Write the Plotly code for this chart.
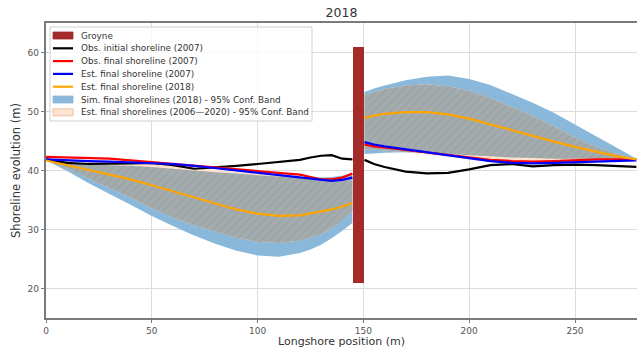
import numpy as np
import plotly.graph_objects as go

# ---------------- data ----------------
x_left = [0, 10, 20, 30, 40, 50, 60, 70, 80, 90, 100, 110, 120, 125, 130, 135, 140, 144.8]
x_right = [150.5, 155, 160, 170, 180, 190, 200, 210, 220, 230, 240, 250, 260, 270, 279]

obs_init_left = [41.9, 41.3, 41.1, 41.1, 41.2, 41.3, 40.9, 40.3, 40.5, 40.8, 41.1, 41.5, 41.8, 42.2, 42.5, 42.6, 42.0, 41.9]
obs_init_right = [41.8, 41.1, 40.6, 39.8, 39.5, 39.6, 40.2, 40.9, 41.1, 40.7, 40.9, 41.0, 40.9, 40.8, 40.6]

obs_final_left = [42.3, 42.2, 42.1, 42.0, 41.7, 41.4, 41.1, 40.7, 40.4, 40.1, 39.8, 39.6, 39.3, 38.9, 38.5, 38.5, 38.8, 39.5]
obs_final_right = [44.4, 44.1, 43.9, 43.5, 43.1, 42.7, 42.2, 41.8, 41.6, 41.5, 41.6, 41.8, 41.9, 41.9, 41.9]

est_2007_left = [41.9, 41.7, 41.6, 41.5, 41.4, 41.3, 41.1, 40.8, 40.4, 40.0, 39.7, 39.3, 38.9, 38.6, 38.4, 38.25, 38.4, 38.8]
est_2007_right = [44.8, 44.4, 44.1, 43.6, 43.0, 42.6, 42.0, 41.6, 41.3, 41.2, 41.3, 41.4, 41.5, 41.6, 41.7]

est_2018_left = [41.7, 40.9, 40.1, 39.4, 38.5, 37.5, 36.5, 35.5, 34.4, 33.4, 32.7, 32.3, 32.4, 32.7, 33.0, 33.4, 33.9, 34.5]
est_2018_right = [48.9, 49.3, 49.6, 49.9, 49.9, 49.5, 48.8, 47.8, 46.8, 45.8, 44.9, 44.0, 43.2, 42.4, 41.9]

sim_up_left = [41.7, 41.3, 41.1, 40.9, 40.8, 40.6, 40.3, 40.0, 39.7, 39.5, 39.2, 39.0, 38.9, 38.8, 38.8, 38.9, 39.1, 39.5]
sim_lo_left = [41.7, 39.9, 37.9, 36.0, 34.2, 32.3, 30.6, 29.0, 27.6, 26.4, 25.6, 25.4, 26.0, 26.6, 27.4, 28.5, 29.8, 31.1]
sim_up_right = [53.3, 53.9, 54.4, 55.3, 55.9, 56.1, 55.5, 54.5, 53.0, 51.5, 49.8, 47.8, 45.8, 43.8, 42.0]
sim_lo_right = [42.8, 42.9, 43.0, 43.1, 43.0, 42.8, 42.6, 42.4, 42.2, 42.1, 42.0, 42.0, 42.0, 42.0, 41.9]

band_up_left = [41.8, 41.6, 41.5, 41.4, 41.2, 41.1, 40.8, 40.5, 40.1, 39.8, 39.5, 39.2, 38.9, 38.6, 38.4, 38.3, 38.3, 38.4]
band_lo_left = [41.7, 40.3, 38.7, 37.0, 35.4, 33.6, 32.0, 30.7, 29.6, 28.6, 27.9, 27.7, 28.1, 28.6, 29.2, 30.2, 31.6, 33.2]
band_up_right = [52.8, 53.3, 53.8, 54.4, 54.6, 54.3, 53.5, 52.3, 50.8, 49.2, 47.5, 45.6, 44.0, 42.8, 42.0]
band_lo_right = [43.6, 43.5, 43.4, 43.1, 42.7, 42.3, 42.0, 41.7, 41.5, 41.4, 41.4, 41.5, 41.6, 41.7, 41.8]

groyne_x = [147.6]
groyne_bottom = [21]
groyne_height = [40]
groyne_width = [5.5]

x_ticks = [0, 50, 100, 150, 200, 250]
y_ticks = [20, 30, 40, 50, 60]

legend_names = ["Groyne", "Obs. initial shoreline (2007)", "Obs. final shoreline (2007)",
                "Est. final shoreline (2007)", "Est. final shoreline (2018)",
                "Sim. final shorelines (2018) - 95% Conf. Band",
                "Est. final shorelines (2006\u20142020) - 95% Conf. Band"]

# ---------------- styles ----------------
C_GROYNE = "#a52a2a"
C_BLACK = "#000000"
C_RED = "#ff0000"
C_BLUE = "#0000ff"
C_ORANGE = "#ffa500"
C_SIM = "#8ab8da"
C_PEACH_BG = "#fde3d0"
C_PEACH_FG = "#f1c29f"
C_GRAY_BG = "#a3abad"
C_GRAY_FG = "#80898c"

legend_kinds = ["patch", "line", "line", "line", "line", "patch", "patch"]
legend_colors = [C_GROYNE, C_BLACK, C_RED, C_BLUE, C_ORANGE, C_SIM, C_PEACH_BG]
legend_borders = [C_GROYNE, None, None, None, None, C_SIM, "#e9b48e"]

W, H = 637, 348
ML, MR, MT, MB = 46, 0, 23, 30
PW, PH = W - ML - MR, H - MT - MB


def ppx(px):
    return (px - ML) / PW


def ppy(py):
    return (H - MB - py) / PH


def polygon(xl, upl, lol, xr, upr, lor):
    xs = list(xl) + list(xl)[::-1] + [None] + list(xr) + list(xr)[::-1]
    ys = list(upl) + list(lol)[::-1] + [None] + list(upr) + list(lor)[::-1]
    return xs, ys


fig = go.Figure()

# groyne
fig.add_trace(go.Bar(x=groyne_x, y=groyne_height, base=groyne_bottom, width=groyne_width,
                     marker=dict(color=C_GROYNE, line=dict(width=0)), showlegend=False,
                     name=legend_names[0]))

# sim band
sx, sy = polygon(x_left, sim_up_left, sim_lo_left, x_right, sim_up_right, sim_lo_right)
fig.add_trace(go.Scatter(x=sx, y=sy, fill="toself", fillcolor=C_SIM, mode="none",
                         showlegend=False, name=legend_names[5]))

# est band (hatched peach)
bx, by = polygon(x_left, band_up_left, band_lo_left, x_right, band_up_right, band_lo_right)
fig.add_trace(go.Scatter(x=bx, y=by, fill="toself", fillcolor=C_PEACH_BG, mode="none",
                         fillpattern=dict(shape="/", bgcolor=C_PEACH_BG, fgcolor=C_PEACH_FG,
                                          size=6, solidity=0.15),
                         showlegend=False, name=legend_names[6]))

# overlap of both bands (appears gray hatched)
ov_up_l = np.minimum(sim_up_left, band_up_left)
ov_lo_l = np.maximum(sim_lo_left, band_lo_left)
ov_up_r = np.minimum(sim_up_right, band_up_right)
ov_lo_r = np.maximum(sim_lo_right, band_lo_right)
ox, oy = polygon(x_left, ov_up_l, ov_lo_l, x_right, ov_up_r, ov_lo_r)
fig.add_trace(go.Scatter(x=ox, y=oy, fill="toself", fillcolor=C_GRAY_BG, mode="none",
                         fillpattern=dict(shape="/", bgcolor=C_GRAY_BG, fgcolor=C_GRAY_FG,
                                          size=6, solidity=0.15),
                         showlegend=False, hoverinfo="skip"))

# lines
def seg(left, right):
    return list(x_left) + [None] + list(x_right), list(left) + [None] + list(right)

for (l, r), col, nm in [((obs_init_left, obs_init_right), C_BLACK, legend_names[1]),
                        ((obs_final_left, obs_final_right), C_RED, legend_names[2]),
                        ((est_2007_left, est_2007_right), C_BLUE, legend_names[3]),
                        ((est_2018_left, est_2018_right), C_ORANGE, legend_names[4])]:
    xs, ys = seg(l, r)
    fig.add_trace(go.Scatter(x=xs, y=ys, mode="lines", line=dict(color=col, width=2.2),
                             showlegend=False, name=nm, connectgaps=False))

# ---------------- manual legend (compact, matplotlib-like) ----------------
shapes = []
annotations = []
box_l, box_r, box_t, box_b = 50, 312, 27, 121
shapes.append(dict(type="rect", xref="paper", yref="paper", x0=ppx(box_l), x1=ppx(box_r),
                   y0=ppy(box_b), y1=ppy(box_t), fillcolor="rgba(255,255,255,0.8)",
                   line=dict(color="#d0d0d0", width=1), layer="above"))
row0, step = 35.5, 12.8
for i, (name, kind, col, bc) in enumerate(zip(legend_names, legend_kinds, legend_colors, legend_borders)):
    yc = row0 + i * step
    if kind == "line":
        shapes.append(dict(type="line", xref="paper", yref="paper", x0=ppx(53), x1=ppx(73),
                           y0=ppy(yc), y1=ppy(yc), line=dict(color=col, width=2.2), layer="above"))
    else:
        shapes.append(dict(type="rect", xref="paper", yref="paper", x0=ppx(53), x1=ppx(73),
                           y0=ppy(yc + 3.5), y1=ppy(yc - 3.5), fillcolor=col,
                           line=dict(color=bc, width=0.8), layer="above"))
    annotations.append(dict(text=name, xref="paper", yref="paper", x=ppx(79), y=ppy(yc),
                            xanchor="left", yanchor="middle", showarrow=False,
                            font=dict(family="DejaVu Sans", size=8.8, color="#333333")))

fig.update_layout(
    width=W, height=H,
    margin=dict(l=ML, r=MR, t=MT, b=MB),
    paper_bgcolor="white", plot_bgcolor="white",
    title=dict(text="2018", x=ppx((ML + W) / 2), xref="paper", y=1 - 13 / H, yref="container",
               xanchor="center", yanchor="middle",
               font=dict(family="DejaVu Sans", size=12.5, color="#333333")),
    showlegend=False,
    shapes=shapes,
    annotations=annotations,
    bargap=0,
)
fig.update_xaxes(range=[0, PW / 2.116], tickvals=x_ticks, showgrid=True, gridcolor="#dcdcdc",
                 gridwidth=1, showline=True, linecolor="#7a7a7a", linewidth=1.5, mirror=True,
                 ticks="outside", ticklen=3, tickcolor="#7a7a7a", zeroline=False,
                 tickfont=dict(family="DejaVu Sans", size=9, color="#555555"),
                 title=dict(text="Longshore position (m)", standoff=4,
                            font=dict(family="DejaVu Sans", size=11, color="#333333")))
fig.update_yaxes(range=[15, 65], tickvals=y_ticks, showgrid=True, gridcolor="#dcdcdc",
                 gridwidth=1, showline=True, linecolor="#7a7a7a", linewidth=1.5, mirror=False,
                 ticks="outside", ticklen=3.5, tickcolor="#7a7a7a", zeroline=False,
                 tickfont=dict(family="DejaVu Sans", size=9, color="#555555"),
                 title=dict(text="Shoreline evolution (m)", standoff=4,
                            font=dict(family="DejaVu Sans", size=11.5, color="#333333")))

fig.write_html("out.html", config={"displayModeBar": False},
               post_script="document.body.style.margin='0';document.body.style.padding='0';"
                           "document.body.style.overflow='hidden';")
